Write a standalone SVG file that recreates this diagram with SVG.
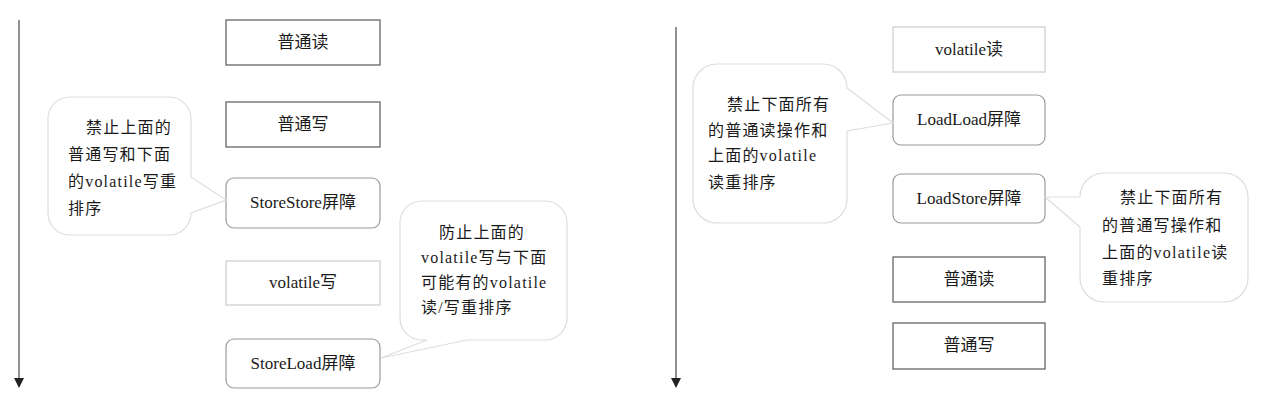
<svg xmlns="http://www.w3.org/2000/svg" width="1282" height="413" viewBox="0 0 1282 413">
<defs>
<style>
text{font-family:"Liberation Serif","Noto Sans CJK SC",serif;font-size:16px;fill:#1a1a1a}
.lbl{text-anchor:middle;font-size:17px}
.cl{letter-spacing:1.2px}
.bx{fill:#fff;stroke:#666;stroke-width:1.3}
.bl{fill:#fff;stroke:#ccc;stroke-width:1.2}
.br{fill:#fff;stroke:#999;stroke-width:1.2}
.co{fill:#fff;stroke:#ddd;stroke-width:1.2}
.ax{stroke:#555;stroke-width:1.3;fill:none}
</style>
</defs>
<rect width="1282" height="413" fill="#fff"/>
<g id="connectors">
<line class="ax" x1="19" y1="20" x2="19" y2="380"/>
<path d="M14,378 L24,378 L19,388 Z" fill="#222"/>
<line class="ax" x1="676" y1="27" x2="676" y2="380"/>
<path d="M671,378 L681,378 L676,388 Z" fill="#222"/>
</g>
<g id="n-l-read"><rect class="bx" x="226" y="20" width="154" height="45"/><text class="lbl" x="303" y="48">普通读</text></g>
<g id="n-l-write"><rect class="bx" x="226" y="102" width="154" height="45"/><text class="lbl" x="303" y="130">普通写</text></g>
<g id="n-storestore"><rect class="br" x="226" y="178" width="154" height="50" rx="8"/><text class="lbl" x="303" y="208">StoreStore屏障</text></g>
<g id="n-vwrite"><rect class="bl" x="226" y="261" width="154" height="44"/><text class="lbl" x="303" y="288">volatile写</text></g>
<g id="n-storeload"><rect class="br" x="226" y="339" width="154" height="49" rx="8"/><text class="lbl" x="303" y="369">StoreLoad屏障</text></g>
<g id="c-1">
<path class="co" d="M70,97 H169 A22,22 0 0 1 191,119 V177 L226,200 L191,213 A22,22 0 0 1 169,235 H70 A22,22 0 0 1 48,213 V119 A22,22 0 0 1 70,97 Z"/>
<text class="cl" x="86" y="133">禁止上面的</text>
<text class="cl" x="68" y="160">普通写和下面</text>
<text class="cl" x="68" y="187">的volatile写重</text>
<text class="cl" x="68" y="214">排序</text>
</g>
<g id="c-2">
<path class="co" d="M422,201 H545 A22,22 0 0 1 567,223 V318 A22,22 0 0 1 545,340 H467 L381,358 L427,340 H422 A22,22 0 0 1 400,318 V223 A22,22 0 0 1 422,201 Z"/>
<text class="cl" x="439" y="238">防止上面的</text>
<text class="cl" x="421" y="263">volatile写与下面</text>
<text class="cl" x="421" y="288">可能有的volatile</text>
<text class="cl" x="421" y="313">读/写重排序</text>
</g>
<g id="n-vread"><rect class="bl" x="893" y="27" width="152" height="45"/><text class="lbl" x="969" y="55">volatile读</text></g>
<g id="n-loadload"><rect class="br" x="893" y="95" width="152" height="50" rx="8"/><text class="lbl" x="969" y="125">LoadLoad屏障</text></g>
<g id="n-loadstore"><rect class="br" x="893" y="174" width="152" height="49" rx="8"/><text class="lbl" x="969" y="204">LoadStore屏障</text></g>
<g id="n-r-read"><rect class="bx" x="893" y="257" width="152" height="45"/><text class="lbl" x="969" y="285">普通读</text></g>
<g id="n-r-write"><rect class="bx" x="893" y="323" width="152" height="46"/><text class="lbl" x="969" y="351">普通写</text></g>
<g id="c-3">
<path class="co" d="M717,64 H823 A24,24 0 0 1 847,88 L893,123 L847,131 V199 A24,24 0 0 1 823,223 H717 A24,24 0 0 1 693,199 V88 A24,24 0 0 1 717,64 Z"/>
<text class="cl" x="727" y="110">禁止下面所有</text>
<text class="cl" x="708" y="136">的普通读操作和</text>
<text class="cl" x="708" y="161">上面的volatile</text>
<text class="cl" x="708" y="188">读重排序</text>
</g>
<g id="c-4">
<path class="co" d="M1104,173 H1224 A24,24 0 0 1 1248,197 V278 A24,24 0 0 1 1224,302 H1104 A24,24 0 0 1 1080,278 V227 L1045,197 L1080,197 A24,24 0 0 1 1104,173 Z"/>
<text class="cl" x="1120" y="203">禁止下面所有</text>
<text class="cl" x="1102" y="231">的普通写操作和</text>
<text class="cl" x="1102" y="258">上面的volatile读</text>
<text class="cl" x="1102" y="284">重排序</text>
</g>
</svg>
